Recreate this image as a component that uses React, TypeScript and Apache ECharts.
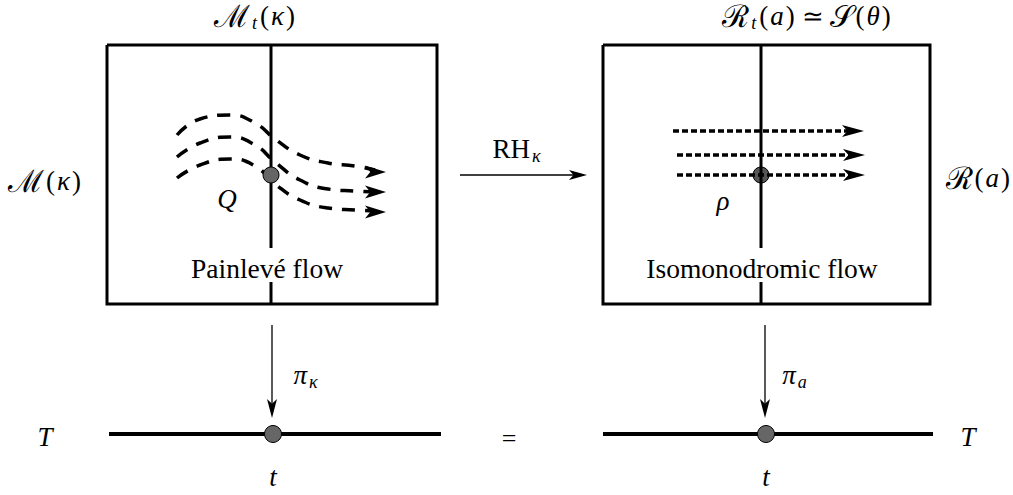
import React, { useEffect, useRef } from "react";
import * as echarts from "echarts";

const W = 1013;
const H = 495;

// Frames (fibres over the base)
const leftBox = [[107, 45], [437, 45], [437, 304], [107, 304], [107, 45]];
const rightBox = [[603, 45], [930, 45], [930, 304], [603, 304], [603, 45]];
const leftFibreTop = [[271, 45], [271, 248]];
const leftFibreBottom = [[271, 282], [271, 304]];
const rightFibreTop = [[761, 45], [761, 248]];
const rightFibreBottom = [[761, 282], [761, 304]];

// Painlevé flow (dashed curves)
const flowA = [[177, 135], [200, 119], [230, 115], [255, 123], [275, 139], [300, 155], [328, 163], [355, 166], [375, 170]];
const flowB = [[177, 157], [200, 143], [230, 137], [255, 145], [275, 162], [300, 180], [328, 189], [355, 191], [375, 192]];
const flowC = [[177, 178], [200, 165], [230, 159], [255, 166], [275, 184], [300, 200], [328, 208], [355, 210], [375, 211]];
const flowTips = [[386, 172], [386, 192], [386, 212]];

// Isomonodromic flow (dotted straight lines)
const isoA = [[673, 131], [852, 131]];
const isoB = [[677, 155], [853, 155]];
const isoC = [[677, 175], [853, 175]];
const isoTips = [[864, 131], [865, 155], [865, 175]];

// Maps
const rhArrow = [[460, 175], [580, 175]];
const rhTip = [[587, 175]];
const piLeft = [[272, 325], [272, 410]];
const piRight = [[765, 325], [765, 410]];
const piTips = [[272, 418], [765, 418]];

// Base T
const baseLeft = [[109, 434], [441, 434]];
const baseRight = [[603, 434], [933, 434]];
const basePoints = [[273, 434], [766, 434]];
const pointQ = [[271, 175]];
const pointRho = [[761, 175]];

const ARROW_RIGHT = "path://M0,0 L24,6 L0,12 L6,6 Z";
const ARROW_DOWN = "path://M0,0 L6,6 L12,0 L6,24 Z";

const lineSeries = (data: number[][], width: number, type: any = "solid", smooth: any = false, z = 2) => ({
  type: "line",
  data,
  symbol: "none",
  smooth,
  z,
  silent: true,
  lineStyle: { color: "#000", width, type, cap: "butt", join: "miter" },
});

const arrowSeries = (data: number[][], symbol: string, size: number[], offset: number[]) => ({
  type: "scatter",
  data,
  symbol,
  symbolSize: size,
  symbolOffset: offset,
  z: 4,
  silent: true,
  itemStyle: { color: "#000", opacity: 1 },
});

const dotSeries = (data: number[][], size: number, color: string, z: number) => ({
  type: "scatter",
  data,
  symbol: "circle",
  symbolSize: size,
  z,
  silent: true,
  itemStyle: { color, borderColor: "#000", borderWidth: 1, opacity: 1 },
});

const makeRich = () => ({
  c: { font: "31px serif", lineHeight: 32, fill: "#000", padding: [0, 1, 0, 0] },
  u: { font: "27px Liberation Serif", lineHeight: 32, fill: "#000", padding: [0, 1, 0, 1] },
  r: { font: "26px Liberation Serif", lineHeight: 32, fill: "#000", padding: [0, 6, 0, 6] },
  i: { font: "italic 27px Liberation Serif", lineHeight: 32, fill: "#000", padding: [0, 1, 0, 1] },
  s: { font: "italic 18px Liberation Serif", lineHeight: 17, verticalAlign: "bottom", fill: "#000", padding: [0, 2, 0, 1] },
});

const txt = (x: number, y: number, text: string, align = "center") => ({
  type: "text",
  x,
  y,
  silent: true,
  style: { text, rich: makeRich(), align, verticalAlign: "middle", fill: "#000", font: "27px Liberation Serif" },
});

const plain = (x: number, y: number, text: string, size: number) => ({
  type: "text",
  x,
  y,
  silent: true,
  style: { text, align: "center", verticalAlign: "middle", fill: "#000", font: size + "px Liberation Serif" },
});

export default function App() {
  const ref = useRef<HTMLDivElement>(null);
  useEffect(() => {
    if (!ref.current) return;
    const chart = echarts.init(ref.current, null, { renderer: "svg" });
    chart.setOption({
      animation: false,
      backgroundColor: "#fff",
      grid: { left: 0, right: 0, top: 0, bottom: 0 },
      xAxis: { type: "value", min: 0, max: W, show: false },
      yAxis: { type: "value", min: 0, max: H, inverse: true, show: false },
      series: [
        lineSeries(leftBox, 3),
        lineSeries(rightBox, 3),
        lineSeries(leftFibreTop, 3),
        lineSeries(leftFibreBottom, 3),
        lineSeries(rightFibreTop, 3),
        lineSeries(rightFibreBottom, 3),
        lineSeries(flowA, 3.5, [13, 10], 0.5),
        lineSeries(flowB, 3.5, [13, 10], 0.5),
        lineSeries(flowC, 3.5, [13, 10], 0.5),
        arrowSeries(flowTips, ARROW_RIGHT, [21, 13], [-10.5, 0]),
        lineSeries(isoA, 3.5, [6, 3]),
        lineSeries(isoB, 3.5, [6, 3]),
        lineSeries(isoC, 3.5, [6, 3]),
        arrowSeries(isoTips, ARROW_RIGHT, [22, 12], [-11, 0]),
        lineSeries(rhArrow, 1.3),
        arrowSeries(rhTip, ARROW_RIGHT, [18, 10], [-9, 0]),
        lineSeries(piLeft, 1.3),
        lineSeries(piRight, 1.3),
        arrowSeries(piTips, ARROW_DOWN, [10, 19], [0, -9.5]),
        lineSeries(baseLeft, 4),
        lineSeries(baseRight, 4),
        dotSeries(basePoints, 17, "#666", 6),
        dotSeries(pointQ, 16, "#666", 6),
        dotSeries(pointRho, 16, "#555", 1),
      ],
      graphic: [
        txt(255, 16, "{c|ℳ}{s|t}{u|(}{i|κ}{u|)}"),
        txt(807, 16, "{c|ℛ}{s|t}{u|(}{i|a}{u|)}{r|≃}{c|𝒮}{u|(}{i|θ}{u|)}"),
        txt(8, 181, "{c|ℳ}{u|(}{i|κ}{u|)}", "left"),
        txt(1011, 178, "{c|ℛ}{u|(}{i|a}{u|)}", "right"),
        txt(517, 149, "{u|RH}{s|κ}"),
        txt(227, 199, "{i|Q}"),
        txt(723, 201, "{i|ρ}"),
        plain(267, 268, "Painlevé flow", 27.5),
        plain(762, 268, "Isomonodromic flow", 27.5),
        txt(306, 375, "{i|π}{s|κ}"),
        txt(795, 375, "{i|π}{s|a}"),
        txt(45, 437, "{i|T}"),
        txt(968, 437, "{i|T}"),
        txt(273, 477, "{i|t}"),
        txt(766, 477, "{i|t}"),
        plain(509, 438, "=", 26),
      ],
    });
    return () => chart.dispose();
  }, []);
  return <div ref={ref} style={{ position: "absolute", left: 0, top: 0, width: W, height: H }} />;
}
